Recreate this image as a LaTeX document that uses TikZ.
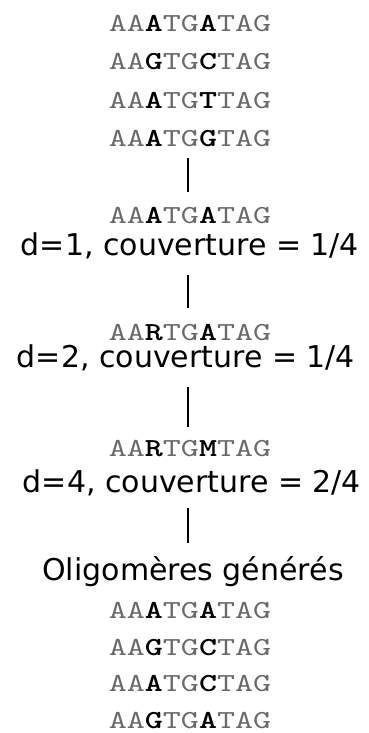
\documentclass[tikz,border=0pt]{standalone}
\usepackage{fontspec}
\setmainfont{DejaVu Sans}
\newfontfamily\seqfont{lmmono10-regular.otf}[BoldFont=lmmonolt10-bold.otf]
\definecolor{seqgray}{HTML}{6A6A6A}
\newcommand{\B}[1]{{\bfseries\color{black}#1}}
\newcommand{\Sq}[1]{\scalebox{1.32}[1]{\seqfont\fontsize{26}{26}\selectfont #1}}
\tikzset{
  seq/.style={inner sep=0pt, text=seqgray},
  lbl/.style={inner sep=0pt, anchor=base, font=\fontsize{30}{30}\selectfont},
  link/.style={line width=1.5pt, black}
}
\begin{document}
\begin{tikzpicture}[x=1pt,y=-1pt]
\useasboundingbox (0,0) rectangle (368,733);
\node[seq] (s1) at (190,23.5) {\Sq{AA\B{A}TG\B{A}TAG}};
\node[seq] (s2) at (190,62) {\Sq{AA\B{G}TG\B{C}TAG}};
\node[seq] (s3) at (190,100.5) {\Sq{AA\B{A}TG\B{T}TAG}};
\node[seq] (s4) at (190,139) {\Sq{AA\B{A}TG\B{G}TAG}};
\coordinate (l1a) at (188,158);
\coordinate (l1b) at (188,192);
\draw[link] (l1a) -- (l1b);
\node[seq] (m1) at (190,216) {\Sq{AA\B{A}TG\B{A}TAG}};
\node[lbl] (d1) at (190,255) {d=1, couverture = 1/4};
\coordinate (l2a) at (188,275);
\coordinate (l2b) at (188,308);
\draw[link] (l2a) -- (l2b);
\node[seq] (m2) at (190,333) {\Sq{AA\B{R}TG\B{A}TAG}};
\node[lbl] (d2) at (186,367) {d=2, couverture = 1/4};
\coordinate (l3a) at (188,387);
\coordinate (l3b) at (188,427);
\draw[link] (l3a) -- (l3b);
\node[seq] (m3) at (190,449) {\Sq{AA\B{R}TG\B{M}TAG}};
\node[lbl] (d3) at (192,492) {d=4, couverture = 2/4};
\coordinate (l4a) at (188,508);
\coordinate (l4b) at (188,543);
\draw[link] (l4a) -- (l4b);
\node[lbl] (og) at (193,580) {Oligomères générés};
\node[seq] (o1) at (190,611) {\Sq{AA\B{A}TG\B{A}TAG}};
\node[seq] (o2) at (190,647.5) {\Sq{AA\B{G}TG\B{C}TAG}};
\node[seq] (o3) at (190,684) {\Sq{AA\B{A}TG\B{C}TAG}};
\node[seq] (o4) at (190,720.5) {\Sq{AA\B{G}TG\B{A}TAG}};
\end{tikzpicture}
\end{document}
